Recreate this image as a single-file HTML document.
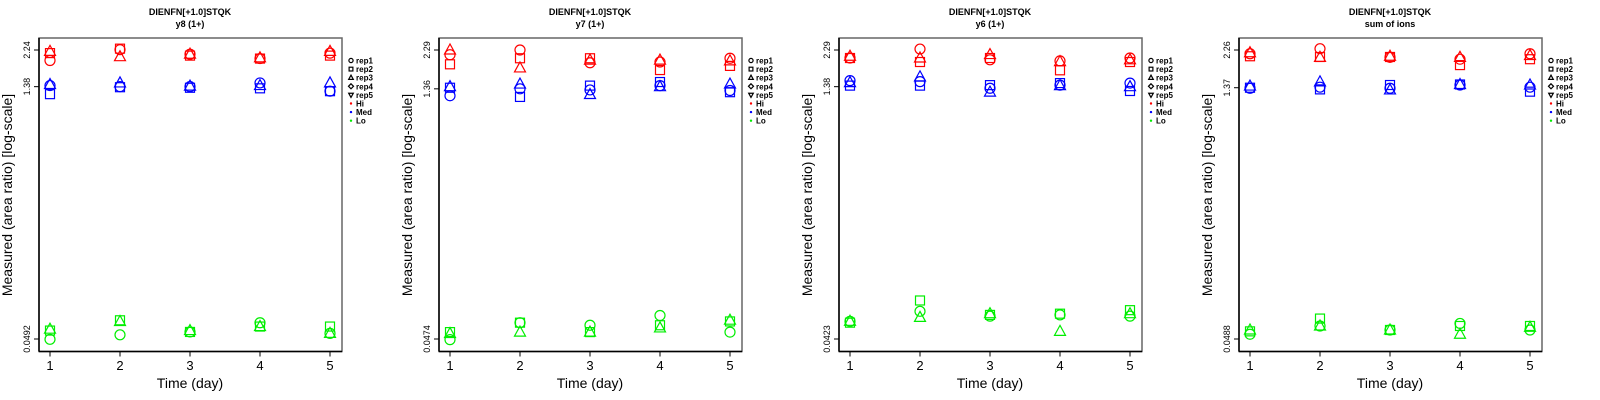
<!DOCTYPE html>
<html><head><meta charset="utf-8"><style>
html,body{margin:0;padding:0;background:#fff;}
svg{display:block;font-family:"Liberation Sans",sans-serif;}
</style></head><body>
<svg id="chart" width="1600" height="400"></svg>
<script>
const days = [1,2,3,4,5];
const repNames = ["rep1","rep2","rep3","rep4","rep5"];
const groupNames = ["Hi","Med","Lo"];
const groupColors = ["#ff0000","#0000ff","#00ee00"];
const panelTitles = ["y8 (1+)","y7 (1+)","y6 (1+)","sum of ions"];
const peptide = "DIENFN[+1.0]STQK";
const yTickTop = [2.24,2.29,2.29,2.26];
const yTickMid = [1.38,1.36,1.38,1.37];
const yTickBot = [0.0492,0.0474,0.0423,0.0488];

// rows: rep1, rep2, rep3 ; columns: days 1..5
const p1Hi = [[1.95,2.25,2.12,2.0,2.15],[2.15,2.28,2.08,2.0,2.08],[2.2,2.05,2.12,2.02,2.2]];
const p1Med = [[1.4,1.38,1.38,1.45,1.3],[1.25,1.37,1.36,1.35,1.3],[1.42,1.45,1.39,1.4,1.45]];
const p1Lo = [[0.049,0.052,0.054,0.061,0.053],[0.055,0.063,0.054,0.058,0.058],[0.056,0.062,0.055,0.058,0.053]];

const p2Hi = [[2.15,2.29,1.93,1.95,2.05],[1.89,2.05,2.05,1.75,1.85],[2.29,1.80,2.0,2.0,1.98]];
const p2Med = [[1.24,1.36,1.34,1.42,1.33],[1.38,1.22,1.42,1.49,1.3],[1.40,1.45,1.26,1.40,1.45]];
const p2Lo = [[0.047,0.059,0.057,0.065,0.052],[0.052,0.059,0.052,0.057,0.060],[0.051,0.052,0.052,0.055,0.061]];

const p3Hi = [[2.05,2.32,2.0,1.97,2.05],[2.05,1.94,2.05,1.73,1.94],[2.1,2.05,2.15,1.95,2.0]];
const p3Med = [[1.50,1.48,1.35,1.41,1.45],[1.40,1.40,1.41,1.45,1.3],[1.46,1.58,1.28,1.4,1.38]];
const p3Lo = [[0.054,0.062,0.058,0.059,0.058],[0.053,0.072,0.059,0.060,0.063],[0.054,0.057,0.060,0.047,0.060]];

const p4Hi = [[2.15,2.3,2.05,2.0,2.15],[2.08,2.06,2.06,1.85,2.0],[2.18,2.05,2.08,2.05,2.1]];
const p4Med = [[1.36,1.38,1.36,1.42,1.38],[1.37,1.34,1.42,1.43,1.3],[1.40,1.48,1.33,1.43,1.42]];
const p4Lo = [[0.052,0.058,0.055,0.060,0.055],[0.054,0.064,0.055,0.058,0.058],[0.055,0.058,0.055,0.052,0.057]];

const panelData = [[p1Hi,p1Med,p1Lo],[p2Hi,p2Med,p2Lo],[p3Hi,p3Med,p3Lo],[p4Hi,p4Med,p4Lo]];

const NS = "http://www.w3.org/2000/svg";
const svg = document.getElementById("chart");
function mk(tag, attrs, parent, text){
  const e = document.createElementNS(NS, tag);
  for (const k in attrs) e.setAttribute(k, attrs[k]);
  if (text !== undefined) e.textContent = text;
  (parent || svg).appendChild(e);
  return e;
}
function marker(g, shape, cx, cy, color, s){
  let e;
  if (shape===0) e = mk("circle",{cx:cx,cy:cy,r:5*s,fill:"none",stroke:color,"stroke-width":1.2},g);
  else if (shape===1) e = mk("rect",{x:cx-4.5*s,y:cy-4.5*s,width:9*s,height:9*s,fill:"none",stroke:color,"stroke-width":1.2},g);
  else if (shape===2) e = mk("polygon",{points:`${cx},${cy-6*s} ${cx-5.5*s},${cy+4*s} ${cx+5.5*s},${cy+4*s}`,fill:"none",stroke:color,"stroke-width":1.2},g);
  else if (shape===3) e = mk("polygon",{points:`${cx},${cy-6*s} ${cx+6*s},${cy} ${cx},${cy+6*s} ${cx-6*s},${cy}`,fill:"none",stroke:color,"stroke-width":1.2},g);
  else e = mk("polygon",{points:`${cx},${cy+6*s} ${cx-5.5*s},${cy-4*s} ${cx+5.5*s},${cy-4*s}`,fill:"none",stroke:color,"stroke-width":1.2},g);
  return e;
}

for (let p=0;p<4;p++){
  const o = 400*p;
  const g = mk("g",{});
  
  
  const L=o+39, R=o+342, T=38, B=351.5;
  const xS = d => o+50 + (d-1)*(280/4);
  const lt = Math.log(yTickTop[p]), lb = Math.log(yTickBot[p]);
  const yS = v => 339 - (Math.log(v)-lb)/(lt-lb)*289;

  const t1 = mk("text",{x:o+190,y:15,"text-anchor":"middle","font-size":9,"font-weight":"bold"},g,peptide);
  
  
  const t2 = mk("text",{x:o+190,y:27,"text-anchor":"middle","font-size":9,"font-weight":"bold"},g,panelTitles[p]);
  
  

  const box = mk("rect",{x:L,y:T,width:R-L,height:B-T,fill:"none",stroke:"#666","stroke-width":1.5},g);
  
  
  mk("line",{x1:L,y1:T,x2:L,y2:B,stroke:"#000","stroke-width":1.5},g);
  mk("line",{x1:L,y1:B,x2:R,y2:B,stroke:"#000","stroke-width":1.5},g);

  days.forEach(d=>{
    const x = xS(d);
    mk("line",{x1:x,y1:B,x2:x,y2:B+5,stroke:"#000"},g);
    const tl = mk("text",{x:x,y:370,"text-anchor":"middle","font-size":13},g,String(d));
    
    
  });
  const xt = mk("text",{x:o+190,y:388,"text-anchor":"middle","font-size":14},g,"Time (day)");
  
  

  [yTickTop[p],yTickMid[p],yTickBot[p]].forEach(v=>{
    const y = yS(v);
    mk("line",{x1:L-5,y1:y,x2:L,y2:y,stroke:"#000"},g);
    const yl = mk("text",{x:o+30,y:y,"text-anchor":"middle","font-size":9,transform:`rotate(-90 ${o+30} ${y})`},g,String(v));
    
    
  });
  const yt = mk("text",{x:o+12,y:195,"text-anchor":"middle","font-size":14,transform:`rotate(-90 ${o+12} 195)`},g,"Measured (area ratio) [log-scale]");
  
  

  const pts = mk("g",{},g);
  
  
  for (let gi=0;gi<3;gi++){
    const series = panelData[p][gi];
    for (let r=0;r<series.length;r++){
      for (let di=0;di<days.length;di++){
        const m = marker(pts, r, xS(days[di]), yS(series[r][di]), groupColors[gi], 1);
        
        
      }
    }
  }

  const lg = mk("g",{},g);
  
  
  repNames.forEach((n,i)=>{
    const y = 60.5 + i*8.6;
    const le = mk("g",{},lg);
    
    
    marker(le, i, o+351, y, "#000", 0.42);
    mk("text",{x:o+356,y:y+3,"font-size":8,"font-weight":"bold"},le,n);
  });
  groupNames.forEach((n,i)=>{
    const y = 60.5 + (5+i)*8.6;
    const le = mk("g",{},lg);
    
    
    mk("circle",{cx:o+351,cy:y,r:1.2,fill:groupColors[i]},le);
    mk("text",{x:o+356,y:y+3,"font-size":8,"font-weight":"bold"},le,n);
  });
}
</script>
</body></html>
